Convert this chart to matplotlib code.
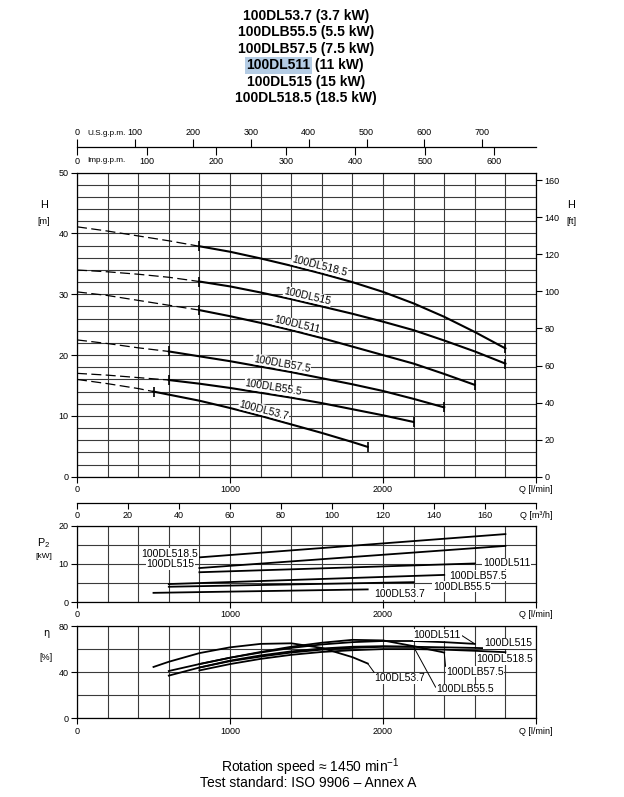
import numpy as np
import matplotlib
matplotlib.use('Agg')
import matplotlib.pyplot as plt
from matplotlib.ticker import MultipleLocator

plt.rcParams['font.family'] = ['Liberation Sans Narrow', 'Liberation Sans', 'DejaVu Sans']

# title lines
models = ['100DL53.7', '100DLB55.5', '100DLB57.5', '100DL511', '100DL515', '100DL518.5']
powers = ['3.7 kW', '5.5 kW', '7.5 kW', '11 kW', '15 kW', '18.5 kW']

# H-Q curves (Q l/min, H m); dashed up to q_start
q_h_537 = [0, 200, 400, 500, 600, 800, 1000, 1200, 1400, 1600, 1800, 1900]
h_537 = [16.0, 15.3, 14.5, 14.0, 13.5, 12.5, 11.3, 10.0, 8.6, 7.2, 5.7, 4.9]
q_h_555 = [0, 200, 400, 600, 800, 1000, 1200, 1400, 1600, 1800, 2000, 2200]
h_555 = [17.0, 16.7, 16.3, 15.9, 15.3, 14.6, 13.8, 13.0, 12.1, 11.1, 10.1, 9.0]
q_h_575 = [0, 200, 400, 600, 800, 1000, 1200, 1400, 1600, 1800, 2000, 2200, 2400]
h_575 = [22.5, 21.9, 21.2, 20.6, 19.8, 19.0, 18.1, 17.2, 16.2, 15.2, 14.1, 12.8, 11.4]
q_h_511 = [0, 200, 400, 600, 800, 1000, 1200, 1400, 1600, 1800, 2000, 2200, 2400, 2600]
h_511 = [30.4, 29.8, 29.0, 28.2, 27.4, 26.4, 25.3, 24.1, 22.8, 21.4, 20.0, 18.6, 16.9, 15.1]
q_h_515 = [0, 200, 400, 600, 800, 1000, 1200, 1400, 1600, 1800, 2000, 2200, 2400, 2600, 2800]
h_515 = [34.0, 33.7, 33.3, 32.8, 32.1, 31.3, 30.3, 29.2, 28.0, 26.8, 25.5, 24.1, 22.4, 20.6, 18.6]
q_h_5185 = [0, 200, 400, 600, 800, 1000, 1200, 1400, 1600, 1800, 2000, 2200, 2400, 2600, 2800]
h_5185 = [41.1, 40.4, 39.6, 38.8, 37.9, 37.0, 35.9, 34.7, 33.4, 32.0, 30.4, 28.5, 26.3, 23.8, 21.1]
q_start = [500, 600, 600, 800, 800, 800]
h_label_q = [1222, 1283, 1338, 1436, 1507, 1585]

# P2 (kW), straight lines
q_p_537, p_537 = [500, 1900], [2.4, 3.3]
q_p_555, p_555 = [600, 2200], [4.0, 5.2]
q_p_575, p_575 = [600, 2400], [4.7, 7.1]
q_p_511, p_511 = [800, 2600], [7.8, 10.1]
q_p_515, p_515 = [800, 2800], [8.9, 14.7]
q_p_5185, p_5185 = [800, 2800], [11.7, 17.8]

# efficiency (%)
q_e_537 = [500, 600, 800, 1000, 1200, 1400, 1600, 1800, 1900]
e_537 = [44.5, 49, 56.5, 61.5, 64.5, 65, 61, 53, 47.5]
q_e_555 = [600, 800, 1000, 1200, 1400, 1600, 1800, 2000, 2200]
e_555 = [37, 44, 50, 54.5, 58, 60.5, 62, 62.5, 62]
q_e_575 = [600, 800, 1000, 1200, 1400, 1600, 1800, 2000, 2200, 2400]
e_575 = [41, 47, 52.5, 57.5, 62, 65.5, 68, 67.5, 62.5, 57]
q_e_511 = [800, 1000, 1200, 1400, 1600, 1800, 2000, 2200, 2400, 2600]
e_511 = [47, 52.5, 57, 61, 64, 66, 67, 67, 66, 64.5]
q_e_515 = [800, 1000, 1200, 1400, 1600, 1800, 2000, 2200, 2400, 2600, 2800]
e_515 = [44, 49.5, 53.5, 57, 59.5, 61, 62, 62, 61.5, 61, 60.3]
q_e_5185 = [800, 1000, 1200, 1400, 1600, 1800, 2000, 2200, 2400, 2600, 2800]
e_5185 = [41.5, 47, 51.5, 55, 57.5, 59, 60, 60, 59.5, 58.5, 57.3]

H_curves = [(q_h_537, h_537), (q_h_555, h_555), (q_h_575, h_575),
            (q_h_511, h_511), (q_h_515, h_515), (q_h_5185, h_5185)]
P_curves = [(q_p_537, p_537), (q_p_555, p_555), (q_p_575, p_575),
            (q_p_511, p_511), (q_p_515, p_515), (q_p_5185, p_5185)]
E_curves = [(q_e_537, e_537), (q_e_555, e_555), (q_e_575, e_575),
            (q_e_511, e_511), (q_e_515, e_515), (q_e_5185, e_5185)]

# label spots (Q, value) for P2 and eta panels
p_label_pos = [(2111, 2.1), (2514, 4.0), (2623, 6.9), (2808, 10.1), (608, 9.95), (608, 12.6)]
e_label_pos = [(2111, 34.9), (2536, 25.2), (2601, 40.4), (2355, 72.2), (2817, 65.0), (2797, 51.0)]

FW, FH = 624, 797
fig = plt.figure(figsize=(FW / 100, FH / 100), dpi=100)
L, W = 77 / FW, 459 / FW


def rect(top, bottom):
    return [L, 1 - bottom / FH, W, (bottom - top) / FH]


GRID = '#3a3a3a'
TS = 6.5   # tick text
LS = 7.5   # curve labels
ARIAL = ['Liberation Sans', 'DejaVu Sans']


def style(ax, ymax, ygrid, yticks):
    ax.set_xlim(0, 3000)
    ax.set_ylim(0, ymax)
    ax.xaxis.set_minor_locator(MultipleLocator(200))
    ax.yaxis.set_minor_locator(MultipleLocator(ygrid))
    ax.set_xticks([0, 1000, 2000, 3000])
    ax.set_xticklabels(['0', '1000', '2000', 'Q [l/min]'])
    ax.set_yticks(yticks)
    ax.grid(which='both', color=GRID, lw=0.8)
    ax.tick_params(which='minor', length=0)
    ax.tick_params(which='major', length=4, width=0.8, labelsize=TS, pad=2)
    for s in ax.spines.values():
        s.set_linewidth(0.9)
    ax.set_axisbelow(True)


# ---- H panel
ax_h = fig.add_axes(rect(172.7, 476.7))
style(ax_h, 50, 2, range(0, 51, 10))
for (q, h), q0, ql, name in zip(H_curves, q_start, h_label_q, models):
    q = np.array(q, float)
    h = np.array(h, float)
    dash = q <= q0
    ax_h.plot(q[dash], h[dash], color='k', lw=0.9, dashes=(8, 3.5), zorder=3)
    ax_h.plot(q[q >= q0], h[q >= q0], color='k', lw=1.5, zorder=3)
    ax_h.plot([q0, q[-1]], [np.interp(q0, q, h), h[-1]], ls='none', marker='|',
              ms=7, mew=1.2, color='k', zorder=3)
    # label sitting on the curve
    slope = np.interp(ql, q[1:], np.diff(h) / np.diff(q))
    ang = np.degrees(np.arctan(slope * (304 / 50) / (459 / 3000)))
    ax_h.annotate(name, xy=(ql, np.interp(ql, q, h)), xytext=(0, 4.9),
                  textcoords='offset points', ha='center', va='center',
                  rotation=ang, rotation_mode='anchor', fontsize=LS, zorder=4,
                  bbox=dict(boxstyle='square,pad=0.05', fc='white', ec='none'))

ax_ft = ax_h.twinx()
ax_ft.set_ylim(0, 50 / 0.3048)
ax_ft.set_yticks(range(0, 161, 20))
ax_ft.tick_params(length=4, width=0.8, labelsize=TS, pad=2)
for s in ax_ft.spines.values():
    s.set_visible(False)

fig.text(44 / FW, 1 - 205 / FH, 'H', fontsize=7.8, ha='center', va='center')
fig.text(44 / FW, 1 - 222 / FH, '[m]', fontsize=6.5, ha='center', va='center')
fig.text(571 / FW, 1 - 205 / FH, 'H', fontsize=7.8, ha='center', va='center')
fig.text(571 / FW, 1 - 222 / FH, '[ft]', fontsize=6.5, ha='center', va='center')

# ---- gallon scales on top
ax_us = fig.add_axes([L, 1 - 147.3 / FH, W, 1e-4])
ax_us.set_xlim(0, 3000 / 3.785)
ax_us.xaxis.tick_top()
ax_us.set_xticks(range(0, 701, 100))
ax_us.set_yticks([])
ax_us.tick_params(axis='x', length=6, width=0.8, labelsize=TS, pad=1)
for k, s in ax_us.spines.items():
    s.set_visible(k == 'top')
    s.set_linewidth(0.9)
ax_us.patch.set_visible(False)

ax_imp = fig.add_axes([L, 1 - 147.3 / FH, W, 1e-4])
ax_imp.set_xlim(0, 3000 / 4.546)
ax_imp.set_xticks(range(0, 601, 100))
ax_imp.set_yticks([])
ax_imp.tick_params(axis='x', length=6, width=0.8, labelsize=TS, pad=1)
for k, s in ax_imp.spines.items():
    s.set_visible(False)
ax_imp.patch.set_visible(False)
fig.text(87 / FW, 1 - 133.5 / FH, 'U.S.g.p.m.', fontsize=5.9, va='center')
fig.text(87 / FW, 1 - 160 / FH, 'Imp.g.p.m.', fontsize=5.9, va='center')

# ---- m3/h scale
ax_m3 = fig.add_axes([L, 1 - 502.7 / FH, W, 1e-4])
ax_m3.set_xlim(0, 180)
ax_m3.set_xticks(range(0, 181, 20))
ax_m3.set_xticklabels([str(v) for v in range(0, 161, 20)] + ['Q [m³/h]'])
ax_m3.set_yticks([])
ax_m3.tick_params(axis='x', length=4, width=0.8, labelsize=TS, pad=2)
for k, s in ax_m3.spines.items():
    s.set_visible(k == 'bottom')
    s.set_linewidth(0.9)
ax_m3.patch.set_visible(False)

# ---- P2 panel
ax_p = fig.add_axes(rect(525.7, 602))
style(ax_p, 20, 5, [0, 10, 20])
for (q, p), (lq, lp), name in zip(P_curves, p_label_pos, models):
    ax_p.plot(q, p, color='k', lw=1.3, zorder=3)
    ax_p.text(lq, lp, name, ha='center', va='center', fontsize=LS, zorder=4,
              bbox=dict(boxstyle='square,pad=0.05', fc='white', ec='none'))
fig.text(44 / FW, 1 - 543 / FH, 'P$_\\mathregular{2}$', fontsize=7.8, ha='center', va='center')
fig.text(44 / FW, 1 - 557 / FH, '[kW]', fontsize=6, ha='center', va='center')

# ---- eta panel
ax_e = fig.add_axes(rect(626, 718.3))
style(ax_e, 80, 20, [0, 40, 80])
rel = [(0, 1), (0, 0.6), (0, 0.5), (1, 0.5), (1, 0), None]
for (q, e), (lq, le), r, name in zip(E_curves, e_label_pos, rel, models):
    ax_e.plot(q, e, color='k', lw=1.3, zorder=3)
    ap = None
    if r is not None:
        ap = dict(arrowstyle='-', lw=0.7, color='k', shrinkA=0, shrinkB=0, relpos=r)
    ax_e.annotate(name, xy=(q[-1], e[-1]), xytext=(lq, le), ha='center', va='center',
                  fontsize=LS, zorder=4, arrowprops=ap,
                  bbox=dict(boxstyle='square,pad=0.05', fc='white', ec='none'))
fig.text(46 / FW, 1 - 633 / FH, 'η', fontsize=7, ha='center', va='center',
         family=['DejaVu Sans'])
fig.text(46 / FW, 1 - 657 / FH, '[%]', fontsize=6.5, ha='center', va='center')

# ---- title
ty = [15.7, 32.3, 49.3, 65.3, 81.7, 98.3]
for i, (m, pw) in enumerate(zip(models, powers)):
    y = 1 - ty[i] / FH
    if m == '100DL511':
        t1 = fig.text(246.5 / FW, y, m, fontsize=10, fontweight='bold',
                      family=ARIAL, va='center', ha='left',
                      bbox=dict(boxstyle='square,pad=0.12', fc='#b4cce4', ec='none'))
        ax_h.annotate(' (' + pw + ')', xy=(1, 0.5), xycoords=t1, va='center', ha='left',
                      fontsize=10, fontweight='bold', family=ARIAL,
                      annotation_clip=False)
    else:
        fig.text(306 / FW, y, m + ' (' + pw + ')', fontsize=10, fontweight='bold',
                 family=ARIAL, ha='center', va='center')

fig.text(310 / FW, 1 - 766.7 / FH, 'Rotation speed ≈ 1450 min$^{\\mathregular{-1}}$',
         fontsize=10, family=ARIAL, ha='center', va='center')
fig.text(308 / FW, 1 - 783.3 / FH, 'Test standard: ISO 9906 – Annex A',
         fontsize=10, family=ARIAL, ha='center', va='center')

fig.savefig('out.png', dpi=100)
